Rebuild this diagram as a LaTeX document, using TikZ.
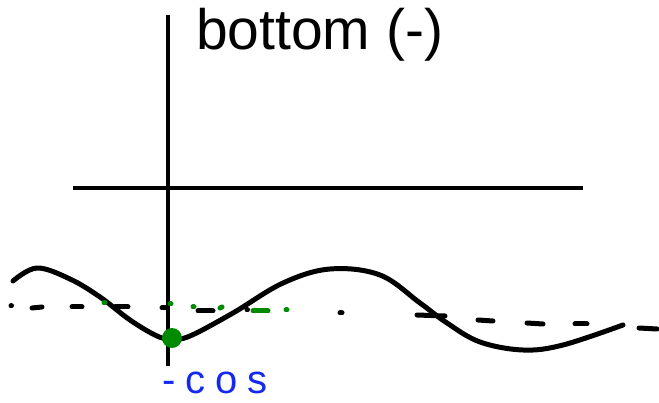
\documentclass[tikz,border=0pt]{standalone}
\usepackage{fontspec}
\setmainfont{Liberation Sans}
\usetikzlibrary{positioning}
\definecolor{penblack}{HTML}{000000}
\definecolor{pengreen}{HTML}{008A00}
\definecolor{penblue}{HTML}{1428F0}
\begin{document}
\begin{tikzpicture}[
  x=1pt, y=-1pt,
  axis/.style={draw=penblack, line width=3.2pt},
  wave/.style={draw=penblack, line width=5pt, line cap=round, line join=round},
  dsh/.style={draw=penblack, line width=5pt, line cap=round},
  gdsh/.style={draw=pengreen, line width=5pt, line cap=round},
]
  \useasboundingbox (0,0) rectangle (659,403);

  % axes
  \draw[axis] (168,15) -- (168,366);
  \draw[axis] (73,188) -- (583,188);

  % title
  \node[anchor=base west, inner sep=0pt, font=\fontsize{57}{60}\selectfont] (title) at (196,50) {bottom (-)};

  % the wave
  \draw[wave] plot[smooth, tension=0.6] coordinates {
    (13,281) (37,268) (70,279) (100,297) (130,320) (157,336) (172,339)
    (190,336) (233,313) (283,283) (330,269) (380,275) (420,303)
    (447,323) (480,342) (523,350) (563,345) (623,325)};

  % dashed reference line (black pieces)
  \foreach \xa/\xb/\ya/\yb in {11/11.5/306/306, 32/42/308/307, 72/82/307/307,
      115/128/307/307, 162/167/308/308, 198/213/311/311, 247/247.5/310/310,
      340/342/313/313, 417/445/315/316, 478/493/320/321, 527/543/323/324,
      575/587/324/324, 639/657/328/329}
    \draw[dsh] (\xa,\ya) -- (\xb,\yb);
  % green pieces
  \foreach \xa/\xb/\ya/\yb in {104/105/303/303, 170/171/304/304, 193/194/307/307,
      220/222/308/307, 253/268/311/311, 286/287/310/310}
    \draw[gdsh] (\xa,\ya) -- (\xb,\yb);

  % point at the bottom
  \fill[pengreen] (172,338) circle (10);

  % label
  \node[anchor=base west, inner sep=0pt, text=penblue, font=\fontsize{40}{44}\selectfont]
    (minuscos) at (162,393) {-\kern10pt c\kern10pt o\kern10pt s};
\end{tikzpicture}
\end{document}
